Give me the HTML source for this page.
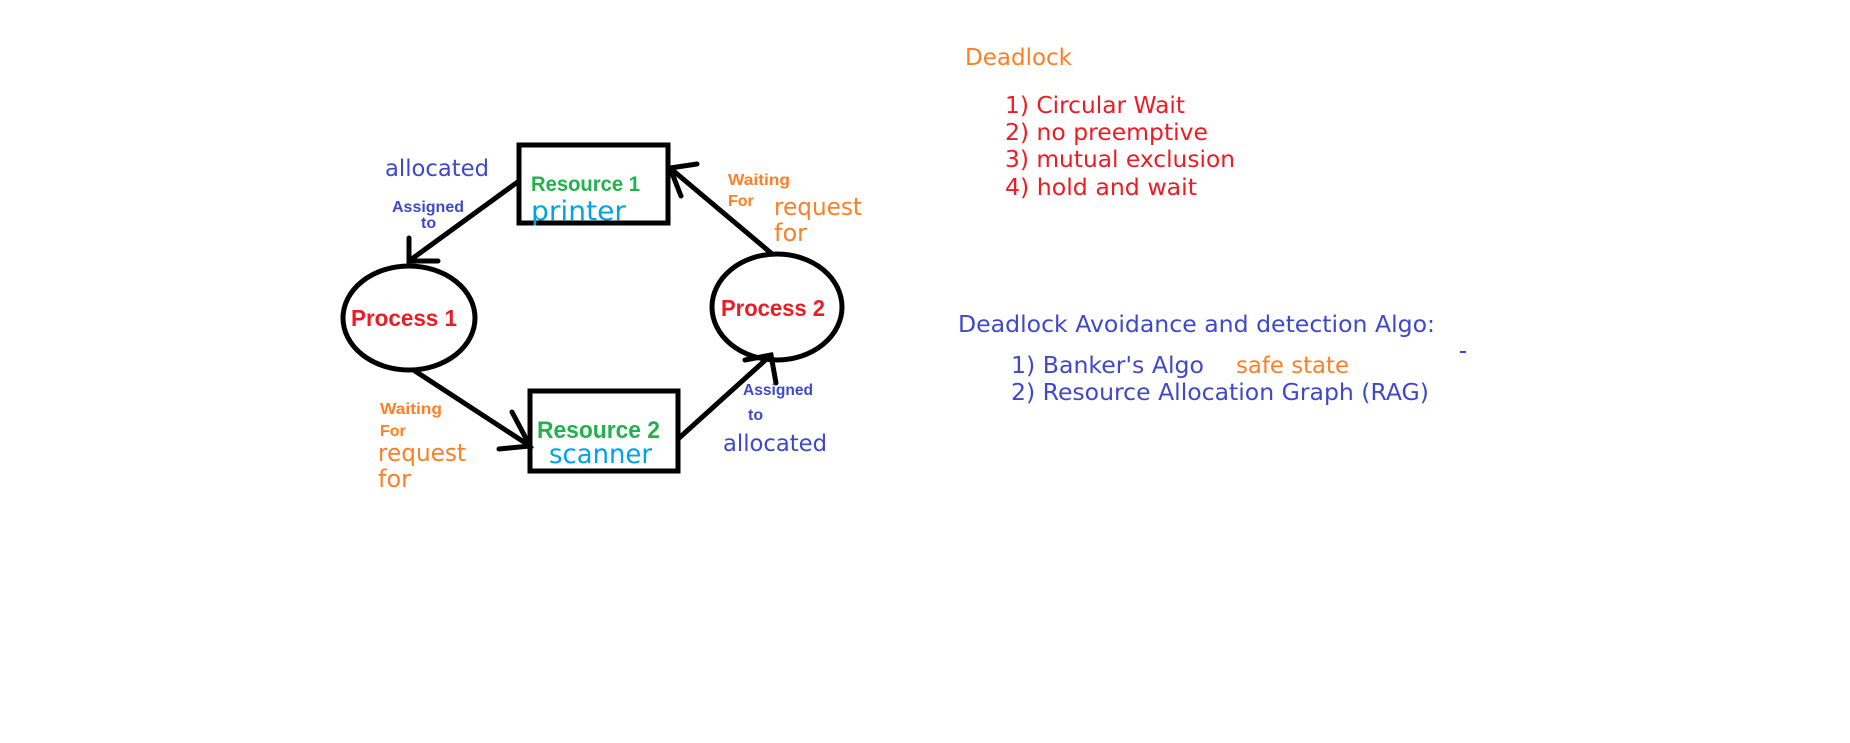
<!DOCTYPE html>
<html><head><meta charset="utf-8"><style>
html,body{margin:0;padding:0;background:#fff;width:1850px;height:743px;overflow:hidden}
svg text{font-family:"DejaVu Sans","Liberation Sans",sans-serif}
.b{font-family:"Liberation Sans",sans-serif;font-weight:bold}
</style></head><body>
<svg width="1850" height="743" viewBox="0 0 1850 743" xmlns="http://www.w3.org/2000/svg">
<g fill="none" stroke="#000" stroke-width="5" stroke-linecap="round">
<rect x="519" y="145" width="149" height="78"/>
<rect x="530" y="391" width="148" height="80"/>
<ellipse cx="409" cy="318" rx="66" ry="52"/>
<ellipse cx="777" cy="307" rx="65" ry="53"/>
<line x1="519" y1="181" x2="409" y2="261"/>
<polyline points="409,238 409,261 438,261"/>
<line x1="415" y1="371" x2="530" y2="446"/>
<polyline points="512,412 530,446 499,449"/>
<line x1="678" y1="439" x2="771" y2="355"/>
<polyline points="745,360 771,355 776,383"/>
<line x1="771" y1="253" x2="670" y2="168"/>
<polyline points="697,164 670,168 681,196"/>
</g>
<g transform="translate(-4,0)">
<text x="389" y="176" fill="#3f48cc" font-size="23" textLength="104" lengthAdjust="spacingAndGlyphs">allocated</text>
<text x="396" y="212" class="b" fill="#3f48cc" font-size="16" textLength="72" lengthAdjust="spacingAndGlyphs">Assigned</text>
<text x="425" y="228" class="b" fill="#3f48cc" font-size="16">to</text>
<text x="535" y="191" class="b" fill="#22b14c" font-size="21" textLength="109" lengthAdjust="spacingAndGlyphs">Resource 1</text>
<text x="535" y="220" fill="#00a2e8" font-size="27" textLength="95" lengthAdjust="spacingAndGlyphs">printer</text>
<text x="732" y="185" class="b" fill="#ff7f27" font-size="16" textLength="62" lengthAdjust="spacingAndGlyphs">Waiting</text>
<text x="732" y="206" class="b" fill="#ff7f27" font-size="16">For</text>
<text x="778" y="215" fill="#ff7f27" font-size="24" textLength="88" lengthAdjust="spacingAndGlyphs">request</text>
<text x="778" y="241" fill="#ff7f27" font-size="24">for</text>
<text x="355" y="326" class="b" fill="#ed1c24" font-size="23" textLength="106" lengthAdjust="spacingAndGlyphs">Process 1</text>
<text x="725" y="316" class="b" fill="#ed1c24" font-size="23" textLength="104" lengthAdjust="spacingAndGlyphs">Process 2</text>
<text x="384" y="414" class="b" fill="#ff7f27" font-size="16" textLength="62" lengthAdjust="spacingAndGlyphs">Waiting</text>
<text x="384" y="436" class="b" fill="#ff7f27" font-size="16">For</text>
<text x="382" y="461" fill="#ff7f27" font-size="24" textLength="88" lengthAdjust="spacingAndGlyphs">request</text>
<text x="382" y="487" fill="#ff7f27" font-size="24">for</text>
<text x="541" y="438" class="b" fill="#22b14c" font-size="24" textLength="123" lengthAdjust="spacingAndGlyphs">Resource 2</text>
<text x="553" y="463" fill="#00a2e8" font-size="27" textLength="103" lengthAdjust="spacingAndGlyphs">scanner</text>
<text x="747" y="395" class="b" fill="#3f48cc" font-size="16" textLength="70" lengthAdjust="spacingAndGlyphs">Assigned</text>
<text x="752" y="420" class="b" fill="#3f48cc" font-size="16">to</text>
<text x="727" y="451" fill="#3f48cc" font-size="23" textLength="104" lengthAdjust="spacingAndGlyphs">allocated</text>

<text x="969" y="65" fill="#ff7f27" font-size="23" textLength="107" lengthAdjust="spacingAndGlyphs">Deadlock</text>
<text x="1009" y="113" fill="#ed1c24" font-size="23" textLength="180" lengthAdjust="spacingAndGlyphs">1) Circular Wait</text>
<text x="1009" y="140" fill="#ed1c24" font-size="23" textLength="203" lengthAdjust="spacingAndGlyphs">2) no preemptive</text>
<text x="1009" y="167" fill="#ed1c24" font-size="23" textLength="230" lengthAdjust="spacingAndGlyphs">3) mutual exclusion</text>
<text x="1009" y="195" fill="#ed1c24" font-size="23" textLength="192" lengthAdjust="spacingAndGlyphs">4) hold and wait</text>
<text x="962" y="332" fill="#3f48cc" font-size="23" textLength="477" lengthAdjust="spacingAndGlyphs">Deadlock Avoidance and detection Algo:</text>
<text x="1015" y="373" fill="#3f48cc" font-size="23" textLength="193" lengthAdjust="spacingAndGlyphs">1) Banker's Algo</text>
<text x="1240" y="373" fill="#ff7f27" font-size="23" textLength="113" lengthAdjust="spacingAndGlyphs">safe state</text>
<text x="1015" y="400" fill="#3f48cc" font-size="23" textLength="418" lengthAdjust="spacingAndGlyphs">2) Resource Allocation Graph (RAG)</text>
</g>
<rect x="1460" y="351" width="6" height="2" fill="#3f48cc"/>
</svg>
</body></html>
